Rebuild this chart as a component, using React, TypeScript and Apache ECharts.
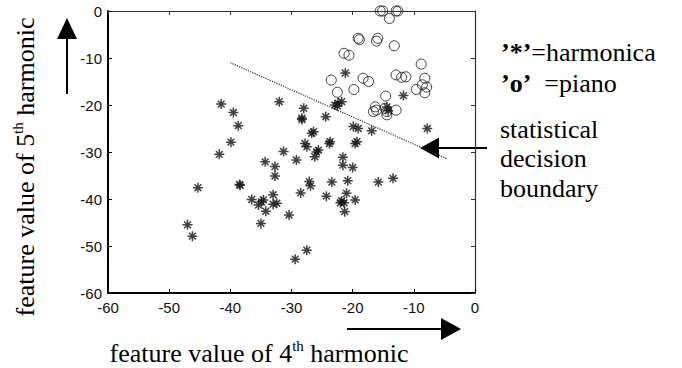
import { useEffect, useRef } from "react";
import * as echarts from "echarts";

// feature value of 4th harmonic (x), 5th harmonic (y)
const harmonicaPoints: [number, number][] = [
  [-41.5, -19.8], [-39.5, -21.6], [-38.7, -24.4], [-39.9, -27.9], [-41.8, -30.5],
  [-45.3, -37.6], [-38.5, -36.9], [-38.4, -37.1], [-47.0, -45.5], [-46.2, -47.9],
  [-36.5, -40.1], [-34.6, -40.2], [-34.9, -40.6], [-35.4, -41.3], [-33.0, -39.1],
  [-33.0, -41.1], [-32.4, -40.9], [-34.2, -42.6], [-35.0, -45.2], [-30.4, -43.4],
  [-34.3, -32.1], [-32.7, -33.1], [-32.7, -35.1], [-31.3, -29.9], [-29.2, -31.7],
  [-32.0, -19.3], [-28.0, -20.7], [-28.3, -22.8], [-28.3, -23.1], [-24.4, -22.5],
  [-22.9, -20.0], [-22.4, -19.6], [-21.8, -19.3], [-22.5, -20.2], [-21.2, -13.2],
  [-26.7, -26.0], [-26.4, -25.7], [-23.7, -27.8], [-23.8, -28.2], [-27.8, -28.2],
  [-27.5, -28.9], [-25.6, -29.6], [-25.9, -30.0], [-26.2, -31.0],
  [-19.9, -24.6], [-19.1, -25.0], [-16.9, -25.5], [-19.6, -28.2], [-19.3, -27.8],
  [-21.6, -31.1], [-21.6, -32.8], [-20.0, -33.3],
  [-27.1, -36.3], [-26.9, -37.2], [-23.4, -36.4], [-20.8, -36.1], [-28.5, -38.7],
  [-24.3, -39.4], [-21.0, -38.8], [-22.0, -40.8], [-21.4, -40.8], [-21.8, -40.4],
  [-19.6, -40.2], [-21.3, -42.7],
  [-15.8, -36.4], [-13.4, -35.6], [-27.5, -50.9], [-29.4, -52.8],
  [-11.7, -18.0], [-14.4, -20.4], [-14.2, -21.2], [-7.8, -25.0],
];

const pianoPoints: [number, number][] = [
  [-15.5, 0], [-15.1, 0], [-12.9, 0], [-12.6, 0], [-14.0, -1.6],
  [-19.1, -5.8], [-18.9, -6.1], [-15.9, -5.8], [-16.1, -6.4], [-13.2, -7.4],
  [-21.4, -9.0], [-20.6, -9.4], [-8.8, -11.3],
  [-23.5, -14.7], [-18.3, -14.3], [-17.4, -15.0], [-12.9, -13.6], [-12.0, -14.1],
  [-11.3, -14.0], [-8.2, -14.3],
  [-22.5, -17.3], [-19.8, -16.7], [-9.6, -16.7], [-8.6, -15.7], [-7.9, -16.2],
  [-8.2, -17.4], [-14.6, -18.1],
  [-16.3, -20.4], [-16.6, -21.4], [-16.1, -21.1], [-14.7, -20.7], [-14.4, -21.4],
  [-14.4, -22.1], [-12.9, -21.1],
];

const boundaryLine: [number, number][] = [[-40, -11], [-4.5, -31.5]];

const axisMin = -60;
const axisMax = 0;
const axisStep = 10;

const xTitle = "{t|feature value of 4}{sup|th}{t| harmonic}";
const yTitle = "{t|feature value of 5}{sup|th}{t| harmonic}";
const legendLines = ["{b|’*’}{r|=harmonica}", "{b|’o’}{r|  =piano}"];
const boundaryLabel = ["statistical", "decision", "boundary"];

const SERIF = "'Liberation Serif', 'Times New Roman', serif";
const SANS = "'Liberation Sans', Arial, sans-serif";
const STAR = "path://M5,0L5,10M0,5L10,5M1.6,1.6L8.4,8.4M1.6,8.4L8.4,1.6";
const FS = 26;

export default function App() {
  const ref = useRef<HTMLDivElement>(null);
  useEffect(() => {
    if (!ref.current) return;
    const chart = echarts.init(ref.current, null, { renderer: "svg" });
    const titleRich = {
      t: { fontFamily: SERIF, fontSize: FS, color: "#000", lineHeight: 30 },
      sup: { fontFamily: SERIF, fontSize: 15, color: "#000", verticalAlign: "top", lineHeight: 30 },
    };
    const mainAxis = (isX: boolean) => ({
      type: "value",
      min: axisMin,
      max: axisMax,
      interval: axisStep,
      position: isX ? "bottom" : "left",
      axisLine: { show: true, onZero: false, lineStyle: { color: "#000", width: 2 } },
      axisTick: { show: true, inside: true, length: 4, lineStyle: { color: "#000", width: 1 } },
      axisLabel: { color: "#111", fontFamily: SANS, fontSize: 15, margin: isX ? 7 : 6 },
      splitLine: { show: false },
    });
    const mirrorAxis = (isX: boolean) => ({
      type: "value",
      min: axisMin,
      max: axisMax,
      interval: axisStep,
      position: isX ? "top" : "right",
      axisLine: { show: true, onZero: false, lineStyle: { color: "#333", width: 1.2 } },
      axisTick: { show: true, inside: true, length: 4, lineStyle: { color: "#333", width: 1 } },
      axisLabel: { show: false },
      splitLine: { show: false },
    });
    const plainText = (x: number, y: number, text: string) => ({
      type: "text",
      style: {
        x,
        y,
        text,
        fontFamily: SERIF,
        fontSize: FS,
        fill: "#000",
        align: "left",
        verticalAlign: "middle",
      },
    });
    chart.setOption({
      animation: false,
      backgroundColor: "#fff",
      grid: { left: 108, right: 207, top: 11, bottom: 75 },
      xAxis: [mainAxis(true), mirrorAxis(true)],
      yAxis: [mainAxis(false), mirrorAxis(false)],
      series: [
        {
          type: "line",
          data: boundaryLine,
          symbol: "none",
          lineStyle: { type: "dotted", color: "#333", width: 1.2 },
          z: 1,
        },
        {
          type: "scatter",
          data: harmonicaPoints,
          symbol: STAR,
          symbolSize: 10,
          itemStyle: { color: "rgba(0,0,0,0)", borderColor: "#111", borderWidth: 1.5 },
          z: 3,
        },
        {
          type: "scatter",
          data: pianoPoints,
          symbol: "circle",
          symbolSize: 10,
          itemStyle: { color: "rgba(0,0,0,0)", borderColor: "#111", borderWidth: 1 },
          z: 2,
        },
      ],
      graphic: [
        {
          type: "text",
          x: 25,
          y: 167,
          rotation: Math.PI / 2,
          style: { text: yTitle, rich: titleRich, align: "center", verticalAlign: "middle" },
        },
        {
          type: "text",
          x: 259,
          y: 353,
          style: { text: xTitle, rich: titleRich, align: "center", verticalAlign: "middle" },
        },
        ...legendLines.map((t, i) => ({
          type: "text",
          style: {
            x: 501,
            y: 52 + i * 31,
            text: t,
            align: "left",
            verticalAlign: "middle",
            rich: {
              b: { fontFamily: SERIF, fontSize: FS, fontWeight: "bold", color: "#000" },
              r: { fontFamily: SERIF, fontSize: FS, color: "#000" },
            },
          },
        })),
        ...boundaryLabel.map((t, i) => plainText(500, 129 + i * 29.5, t)),
        // y-direction arrow
        { type: "line", shape: { x1: 67, y1: 94, x2: 67, y2: 36 }, style: { stroke: "#000", lineWidth: 2 } },
        { type: "polygon", shape: { points: [[67, 18], [57, 39], [77, 39]] }, style: { fill: "#000" } },
        // x-direction arrow
        { type: "line", shape: { x1: 347, y1: 329, x2: 444, y2: 329 }, style: { stroke: "#000", lineWidth: 2 } },
        { type: "polygon", shape: { points: [[461, 329], [441, 318], [441, 340]] }, style: { fill: "#000" } },
        // boundary pointer arrow
        { type: "line", shape: { x1: 436, y1: 148, x2: 487, y2: 148 }, style: { stroke: "#000", lineWidth: 2 } },
        { type: "polygon", shape: { points: [[420, 148], [439, 137.5], [439, 158.5]] }, style: { fill: "#000" } },
      ],
    });
    return () => chart.dispose();
  }, []);
  return (
    <div
      ref={ref}
      style={{ position: "absolute", left: 0, top: 0, width: 682, height: 368, background: "#fff" }}
    />
  );
}
